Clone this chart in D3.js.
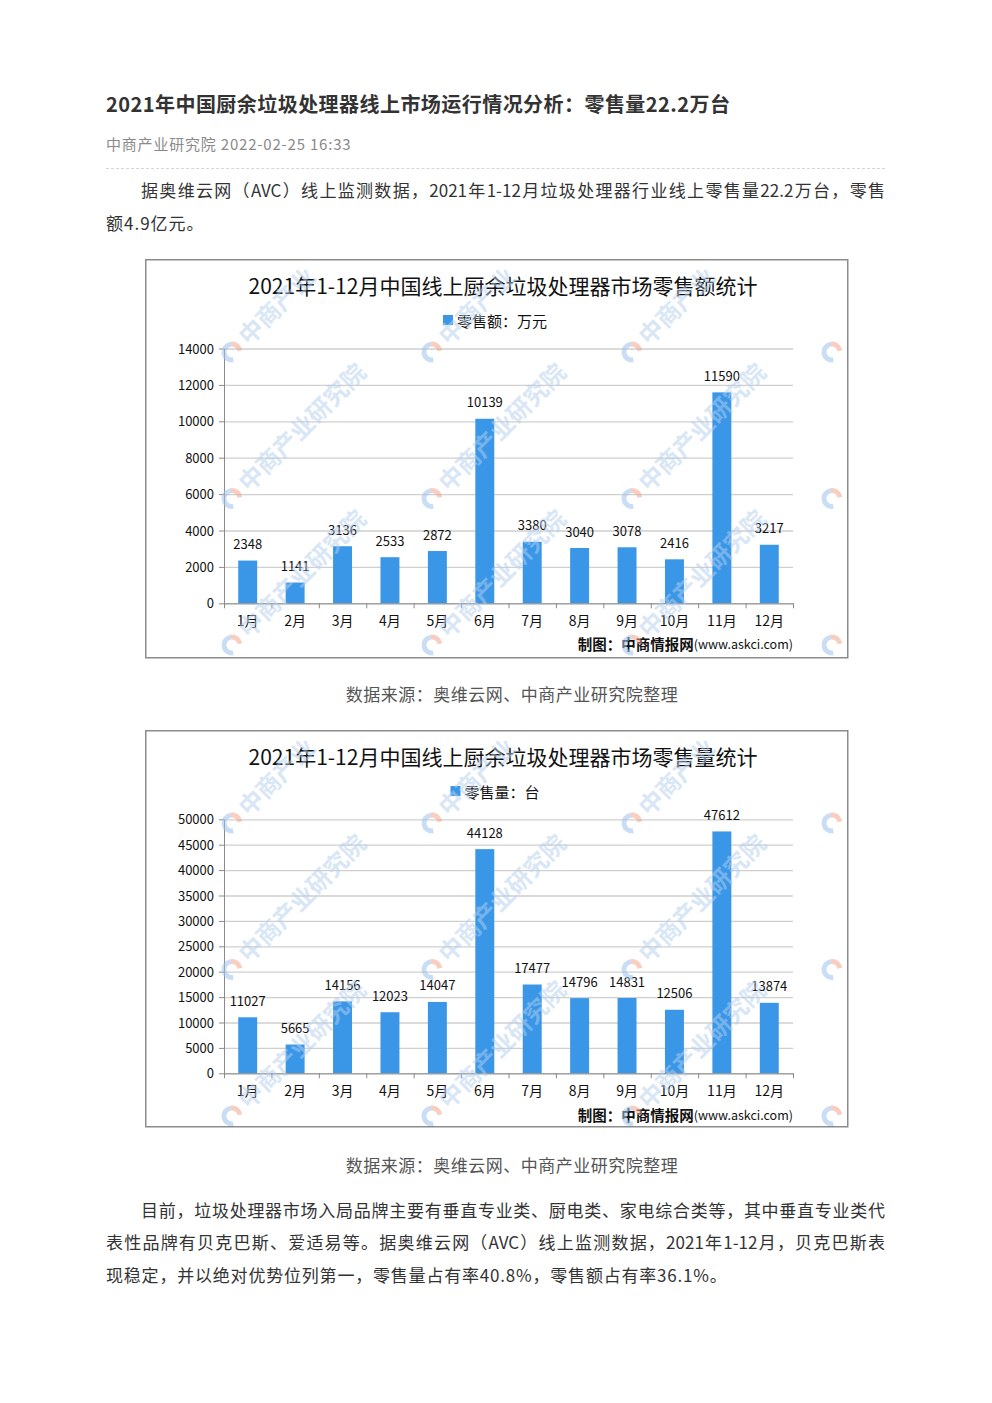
<!DOCTYPE html>
<html><head><meta charset="utf-8">
<script src="https://cdn.jsdelivr.net/npm/d3@7"></script>
<style>
body{margin:0;background:#fff;}
#page{position:relative;width:992px;height:1403px;overflow:hidden;font-family:"Noto Sans CJK SC","Noto Sans",sans-serif;color:#333;}
.ln{position:absolute;white-space:nowrap;}
.j{text-align:justify;text-align-last:justify;}
svg text{font-family:"Noto Sans CJK SC","Noto Sans",sans-serif;}
</style></head><body><div id="page"></div>
<script>
// ---------- data ----------
const months = ["1月","2月","3月","4月","5月","6月","7月","8月","9月","10月","11月","12月"];
const salesAmount = [2348,1141,3136,2533,2872,10139,3380,3040,3078,2416,11590,3217];
const salesVolume = [11027,5665,14156,12023,14047,44128,17477,14796,14831,12506,47612,13874];
const amountTicks = [0,2000,4000,6000,8000,10000,12000,14000];
const volumeTicks = [0,5000,10000,15000,20000,25000,30000,35000,40000,45000,50000];

const pageTitle = "2021年中国厨余垃圾处理器线上市场运行情况分析：零售量22.2万台";
const pageMeta = "中商产业研究院 2022-02-25 16:33";
const para1 = ["据奥维云网（AVC）线上监测数据，2021年1-12月垃圾处理器行业线上零售量22.2万台，零售","额4.9亿元。"];
const caption = "数据来源：奥维云网、中商产业研究院整理";
const para2 = ["目前，垃圾处理器市场入局品牌主要有垂直专业类、厨电类、家电综合类等，其中垂直专业类代",
  "表性品牌有贝克巴斯、爱适易等。据奥维云网（AVC）线上监测数据，2021年1-12月，贝克巴斯表",
  "现稳定，并以绝对优势位列第一，零售量占有率40.8%，零售额占有率36.1%。"];
const chart1Title = "2021年1-12月中国线上厨余垃圾处理器市场零售额统计";
const chart1Legend = "零售额：万元";
const chart2Title = "2021年1-12月中国线上厨余垃圾处理器市场零售量统计";
const chart2Legend = "零售量：台";
const creditCn = "制图：中商情报网";
const creditUrl = "(www.askci.com)";
const watermark = "中商产业研究院";
const watermarkTop = "中商产业";

// ---------- page text ----------
const page = d3.select("#page");
function line(txt, left, cy, opts){
  const L = opts.lh || 34;
  const d = page.append("div").attr("class","ln"+(opts.justify?" j":""))
    .style("left", left+"px").style("top",(cy - L/2 - 1)+"px")
    .style("font-size", opts.fs+"px").style("line-height", L+"px")
    .style("letter-spacing",(opts.ls||0)+"px")
    .style("color", opts.color||"#333")
    .style("font-weight", opts.fw||"normal")
    .text(txt);
  if(opts.width) d.style("width", opts.width+"px");
  if(opts.center){ d.style("width","992px").style("left","0px").style("text-align","center").style("padding-left",(opts.center*2-992)+"px").style("box-sizing","border-box"); }
  return d;
}
line(pageTitle,106,105,{fs:20,fw:"bold",ls:0.45,color:"#333"});
line(pageMeta,106,145,{fs:15,ls:0.8,color:"#8a8a8a"});
page.append("div").style("position","absolute").style("left","106px").style("top","168px")
  .style("width","779px").style("border-top","1.5px dashed #d6d6d6");
line(para1[0],141,191,{fs:17,ls:0,justify:true,width:744});
line(para1[1],106,224,{fs:17,ls:1});
line(caption,0,695,{fs:17,ls:0.5,color:"#555",center:512});
line(caption,0,1166,{fs:17,ls:0.5,color:"#555",center:512});
line(para2[0],141,1211,{fs:17,ls:0,justify:true,width:744});
line(para2[1],106,1243,{fs:17,ls:0,justify:true,width:779});
line(para2[2],106,1276,{fs:17,ls:0.8});

// ---------- charts ----------
const barColor = "#3a97e8";
function drawChart(top, h, title, legendLabel, values, ticks, y0px, yTopPx){
  const W = 704;
  const svg = page.append("svg").style("position","absolute").style("left","145px").style("top",top+"px")
    .attr("width",W).attr("height",h+2);
  const plotL = 79, plotR = 648;
  const x = d3.scaleBand().domain(months).range([plotL,plotR]).paddingInner(0.6).paddingOuter(0.3);
  const y = d3.scaleLinear().domain([0, ticks[ticks.length-1]]).range([y0px, yTopPx]);

  // grid
  const grid = svg.append("g").attr("transform",`translate(${plotL},0)`)
    .call(d3.axisLeft(y).tickValues(ticks).tickSize(-(plotR-plotL)).tickFormat(""));
  grid.select(".domain").remove();
  grid.selectAll("line").attr("stroke","#cfcfcf").attr("stroke-width",1.3);

  // bars
  svg.append("g").selectAll("rect").data(values).join("rect")
    .attr("x",(d,i)=>x(months[i])).attr("width",x.bandwidth())
    .attr("y",d=>y(d)).attr("height",d=>y(0)-y(d)).attr("fill",barColor);

  // y axis
  const ya = svg.append("g").attr("transform",`translate(${plotL},0)`)
    .call(d3.axisLeft(y).tickValues(ticks).tickSize(5).tickSizeOuter(0).tickPadding(5).tickFormat(d3.format("d")));
  ya.select(".domain").attr("stroke","#8a8a8a");
  ya.selectAll("line").attr("stroke","#8a8a8a");
  ya.selectAll("text").attr("font-size",13).attr("fill","#111").attr("dy","0.35em");

  // x axis boundary ticks
  const xb = d3.scaleLinear().domain([0,months.length]).range([plotL,plotR]);
  const xa = svg.append("g").attr("transform",`translate(0,${y0px})`)
    .call(d3.axisBottom(xb).tickValues(d3.range(months.length+1)).tickSize(5).tickSizeOuter(0).tickFormat(""));
  xa.select(".domain").attr("stroke","#8a8a8a");
  xa.selectAll("line").attr("stroke","#8a8a8a");
  // x labels
  const xl = svg.append("g").attr("transform",`translate(0,${y0px})`)
    .call(d3.axisBottom(x).tickSize(0).tickPadding(0));
  xl.select(".domain").remove();
  xl.selectAll("text").attr("font-size",14).attr("fill","#111").attr("y",18).attr("dy","0.35em");

  // value labels
  svg.append("g").selectAll("text").data(values).join("text")
    .attr("x",(d,i)=>x(months[i])+x.bandwidth()/2).attr("y",d=>y(d)-16).attr("dy","0.35em")
    .attr("text-anchor","middle").attr("font-size",13).attr("fill","#111").text(d=>d);

  // title
  svg.append("text").attr("x",358).attr("y",26).attr("text-anchor","middle").attr("dominant-baseline","central")
    .attr("font-size",21).attr("fill","#111").text(title);
  // legend
  const lg = svg.append("g");
  lg.append("rect").attr("x",0).attr("y",-5).attr("width",10).attr("height",10).attr("fill",barColor);
  const lt = lg.append("text").attr("x",14).attr("y",0).attr("dominant-baseline","central")
    .attr("font-size",15).attr("fill","#111").text(legendLabel);
  const lw = 14 + lt.node().getComputedTextLength();
  lg.attr("transform",`translate(${350 - lw/2},61)`);

  // credit
  const cr = svg.append("text").attr("x",plotR).attr("y",384).attr("text-anchor","end").attr("dominant-baseline","central").attr("fill","#111");
  cr.append("tspan").attr("font-size",14.5).attr("font-weight","bold").text(creditCn);
  cr.append("tspan").attr("font-size",12.5).text(creditUrl);

  // watermarks
  const clipId = "clip"+top;
  svg.append("clipPath").attr("id",clipId).append("rect").attr("x",1).attr("y",1).attr("width",701).attr("height",h-1);
  const wm = svg.append("g").attr("clip-path",`url(#${clipId})`);
  const arcB = d3.arc().innerRadius(5.5).outerRadius(10.5).startAngle(Math.PI*0.95).endAngle(Math.PI*1.95);
  const arcO = d3.arc().innerRadius(5.5).outerRadius(10.5).startAngle(Math.PI*1.95).endAngle(Math.PI*2.45);
  const pos = [];
  for(let i=0;i<=3;i++) for(let j=0;j<3;j++) pos.push([87+200*i, 93+146.5*j, j]);
  pos.forEach(([px,py,j])=>{
    const g = wm.append("g").attr("transform",`translate(${px},${py})`);
    g.append("path").attr("d",arcB()).attr("fill","#9cc3ec").attr("opacity",0.55);
    g.append("path").attr("d",arcO()).attr("fill","#f2a58c").attr("opacity",0.55);
    if(px < 600) g.append("text").attr("transform","rotate(-45)").attr("x",16).attr("y",8)
      .attr("font-size",24).attr("font-weight","bold").attr("fill","#b4cfee").attr("opacity",0.5)
      .text(j===0 ? watermarkTop : watermark);
  });

  // border
  svg.append("rect").attr("x",0.75).attr("y",0.75).attr("width",702).attr("height",h-1)
    .attr("fill","none").attr("stroke","#8c8c8c").attr("stroke-width",1.5);
}
drawChart(259, 399, chart1Title, chart1Legend, salesAmount, amountTicks, 344.3, 89.5);
drawChart(730, 397, chart2Title, chart2Legend, salesVolume, volumeTicks, 343.3, 89.3);
</script></body></html>
